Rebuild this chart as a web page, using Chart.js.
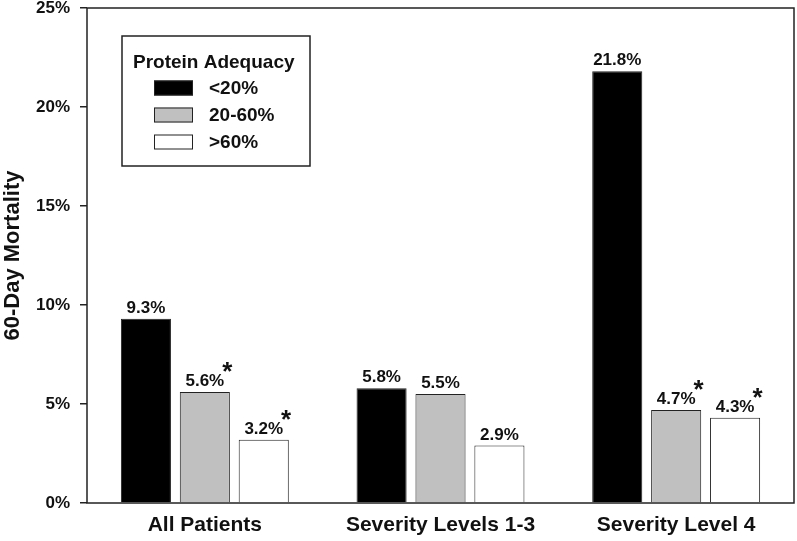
<!DOCTYPE html>
<html>
<head>
<meta charset="utf-8">
<script src="https://cdn.jsdelivr.net/npm/chart.js@4/dist/chart.umd.min.js"></script>
<style>
  html, body { margin: 0; padding: 0; background: #fff; }
  #wrap { width: 797px; height: 541px; }
</style>
</head>
<body>
<div id="wrap"><canvas id="mortalityChart"></canvas></div>
<script>
const categories = ['All Patients', 'Severity Levels 1-3', 'Severity Level 4'];
const groupNames = ['<20%', '20-60%', '>60%'];
const lowProtein = [9.3, 5.8, 21.8];
const midProtein = [5.6, 5.5, 4.7];
const highProtein = [3.2, 2.9, 4.3];
// which bars carry a significance star
const lowStars = [false, false, false];
const midStars = [true, false, true];
const highStars = [true, false, true];
const yTicks = [0, 5, 10, 15, 20, 25];

const FONT = "'Liberation Sans', Arial, Helvetica, sans-serif";
const INK = '#222';

// Frame around the plot area (top and right sides included)
const framePlugin = {
  id: 'frame',
  afterDatasetsDraw(chart) {
    const { ctx, chartArea: a } = chart;
    ctx.save();
    ctx.strokeStyle = INK;
    ctx.lineWidth = 1.5;
    ctx.strokeRect(a.left, a.top, a.right - a.left, a.bottom - a.top);
    ctx.restore();
  }
};

// Value labels above bars, with an asterisk for significant ones
const valueLabels = {
  id: 'valueLabels',
  afterDatasetsDraw(chart) {
    const ctx = chart.ctx;
    ctx.save();
    chart.data.datasets.forEach((ds, i) => {
      const meta = chart.getDatasetMeta(i);
      meta.data.forEach((bar, j) => {
        const txt = ds.data[j].toFixed(1) + '%';
        ctx.font = 'bold 17px ' + FONT;
        ctx.fillStyle = '#111';
        ctx.textAlign = 'center';
        ctx.textBaseline = 'alphabetic';
        const y = bar.y - 6;
        ctx.fillText(txt, bar.x, y);
        if (ds.stars[j]) {
          const w = ctx.measureText(txt).width;
          ctx.font = 'bold 26px ' + FONT;
          ctx.textAlign = 'center';
          ctx.fillText('*', bar.x + w / 2 + 3, y - 6);
        }
      });
    });
    ctx.restore();
  }
};

// Boxed legend with title, drawn in the upper left of the plot
const boxLegend = {
  id: 'boxLegend',
  afterDraw(chart) {
    const ctx = chart.ctx;
    const x0 = 122, y0 = 36, w = 188, h = 130;
    ctx.save();
    ctx.fillStyle = '#fff';
    ctx.fillRect(x0, y0, w, h);
    ctx.strokeStyle = INK;
    ctx.lineWidth = 1.5;
    ctx.strokeRect(x0, y0, w, h);
    ctx.fillStyle = '#111';
    ctx.font = 'bold 19px ' + FONT;
    ctx.textAlign = 'left';
    ctx.textBaseline = 'alphabetic';
    ctx.fillText('Protein Adequacy', x0 + 11, y0 + 32);
    chart.data.datasets.forEach((ds, i) => {
      const cy = y0 + 52 + i * 27;
      ctx.fillStyle = ds.backgroundColor;
      ctx.fillRect(154, cy - 7.5, 39, 15);
      ctx.strokeStyle = INK;
      ctx.lineWidth = 1;
      ctx.strokeRect(154.5, cy - 7, 38, 14);
      ctx.fillStyle = '#111';
      ctx.textBaseline = 'middle';
      ctx.fillText(ds.label, 209, cy + 1);
      ctx.textBaseline = 'alphabetic';
    });
    ctx.restore();
  }
};

const ctx = document.getElementById('mortalityChart').getContext('2d');
const mortalityChart = new Chart(ctx, {
  type: 'bar',
  data: {
    labels: categories,
    datasets: [
      { label: groupNames[0], data: lowProtein, stars: lowStars, backgroundColor: '#000000' },
      { label: groupNames[1], data: midProtein, stars: midStars, backgroundColor: '#c0c0c0' },
      { label: groupNames[2], data: highProtein, stars: highStars, backgroundColor: '#ffffff' }
    ].map(d => Object.assign(d, {
      borderColor: INK,
      borderWidth: 1,
      categoryPercentage: 0.75,
      barPercentage: 0.85
    }))
  },
  options: {
    responsive: true,
    maintainAspectRatio: false,
    animation: false,
    layout: { padding: { top: 8, right: 3, left: 0, bottom: 0 } },
    plugins: {
      legend: { display: false },
      tooltip: { enabled: false }
    },
    scales: {
      x: {
        grid: { display: false },
        border: { display: false },
        ticks: {
          color: '#111',
          padding: 2,
          font: { family: FONT, size: 21, weight: 'bold' }
        },
        afterFit: s => { s.height = 38; s.paddingLeft = 0; s.paddingRight = 0; }
      },
      y: {
        min: 0,
        max: 25,
        afterBuildTicks: s => { s.ticks = yTicks.map(v => ({ value: v })); },
        grid: {
          drawOnChartArea: false,
          drawTicks: true,
          tickLength: 7,
          color: INK,
          lineWidth: 1.5
        },
        border: { display: false },
        ticks: {
          color: '#111',
          padding: 10,
          font: { family: FONT, size: 17, weight: 'bold' },
          callback: v => v + '%'
        },
        title: {
          display: true,
          text: '60-Day Mortality',
          color: '#111',
          padding: { top: 0, bottom: 0 },
          font: { family: FONT, size: 22, weight: 'bold' }
        },
        afterFit: s => { s.width = 87; s.paddingTop = 0; s.paddingBottom = 0; }
      }
    }
  },
  plugins: [framePlugin, valueLabels, boxLegend]
});
</script>
</body>
</html>
